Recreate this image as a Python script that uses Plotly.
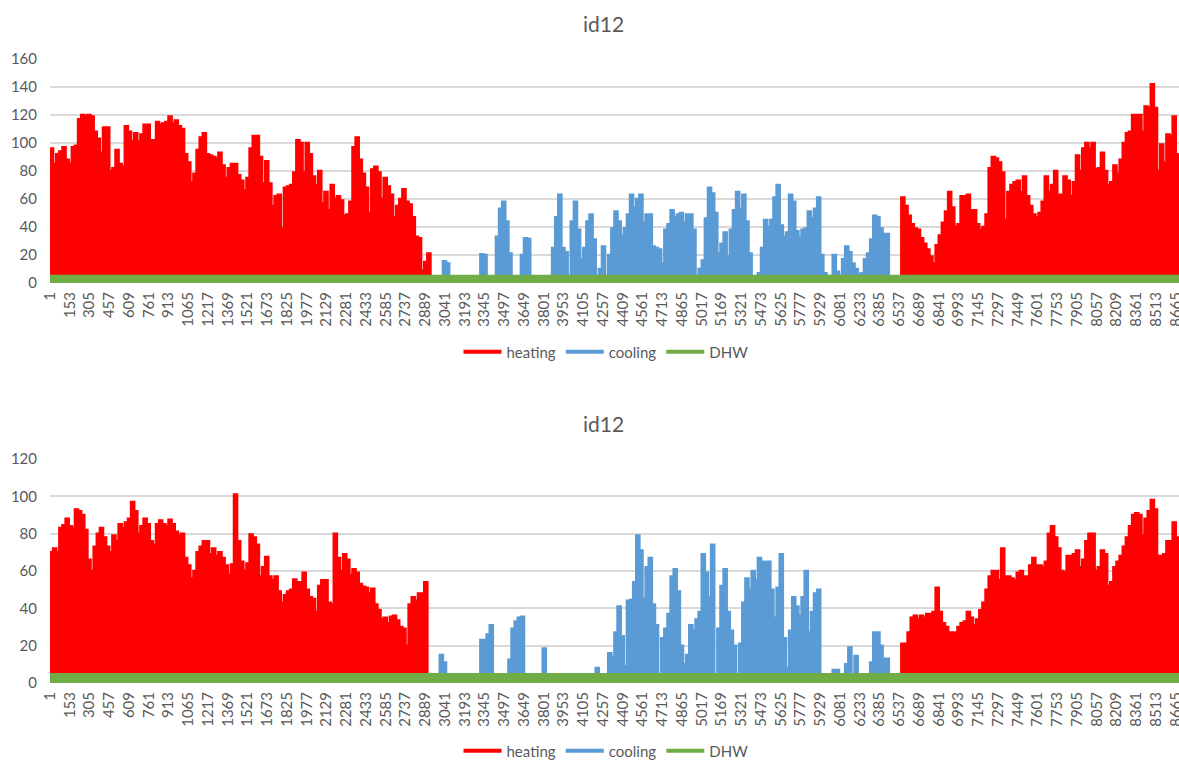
import plotly.graph_objects as go

TITLE = "id12"
SERIES_NAMES = ["heating", "cooling", "DHW"]
COLORS = {"heating": "#ff0000", "cooling": "#5b9bd5", "DHW": "#70ad47"}
HOURS_PER_DAY = 24
N_DAYS = 364
TICK_HOURS = list(range(1, 8666, 152))
DHW_TOP = 5.0
DHW_BOTTOM = 4.7

# daily envelope values: (first day, values)
top_heating_start = [96,85,92,94,97,88,85,97,98,117,120,119,120,119,108,103,93,111,111,80,82,95,85,83,112,108,101,107,101,106,113,113,102,102,115,113,114,115,119,114,116,112,110,92,86,72,78,95,104,107,92,91,90,89,93,84,75,82,85,85,77,73,66,75,96,105,105,90,71,87,71,55,62,63,39,68,69,70,79,102,100,79,100,92,76,70,80,57,65,52,70,60,62,59,48,49,58,97,104,88,78,68,50,81,83,79,60,75,69,63,47,55,60,67,58,56,47,33,32,9,15,21]
top_heating_end = [61,55,48,42,39,38,32,28,24,19,14,27,34,43,51,65,54,40,42,62,62,63,52,52,42,38,40,49,82,90,89,86,79,45,65,70,72,73,65,76,62,55,49,47,50,58,76,65,70,80,63,63,76,73,62,72,91,80,96,100,96,100,81,82,93,80,70,72,84,78,88,100,107,108,120,120,120,108,126,125,142,125,80,99,86,106,105,119,92,60,60]
top_cooling_blocks = [
    (126, [15.5,14]),
    (138, [20.5,20]),
    (143, [33,53,58,44,21]),
    (151, [20,32,31.5]),
    (161, [25,47,63,25,22,0,44,58,38,17,25,44,49,31,0,10,26,0,20,39,51,44,34,39,49,63,54,60,63,43,49,49,26,25,24,14,38,42,52,47,49,50,43,49,49,38]),
    (208, [10,16,46,68,64,50,21,28,36,19,38,52,65,53,63,44,21]),
    (227, [7,25,45,40,45,61,70,41,33,36,63,58,37,33,38,39,51,46,53,61,20,7,5]),
    (251, [20,8,5,17,26,22,14,10,6,7,17,21,31,48,47,39,35,35]),
]

bottom_heating_start = [70,72,70,83,84.5,88,84,83,93,92,90,82,66,60,73,80,83,78,73,70,79,76,85,83,86,88,97,92,80,84,88,85,76,74,85,87,85,84,87.5,85,81,79,80,67,63,56,60,70,73,76,76,69,72,68,70,67,63,58,63.5,101,76,65,60,64,79.5,78,74,57,62,67.5,57,55,57,49,43,47,49,50,55.5,54,54,59,50,46,45,38,52,55,55,43,42,80,67,60,69,66,58,61,59,53,51.5,51,48,50.5,42,39,34,35,32,35.5,36,33.5,30,29,20,42,46,44,48,48,54]
bottom_heating_end = [21,21,27,35,36,34,36,35,37,37,38,51,38,32,30,27,27,27,30,32,33,38,35,31,34,39,43,50,57,60,60,55,72,57,57,56,55,59,60,57,57,63,67,63,63,62,65,80,84,78,72,60,59,68,68,69,71,62,66,76,80,80,60,62,71,69,52,54,62,65,68,73,78,84,90,91,90,79,88,92,98,93,68,68,69,76,76,86,78,46,46]
bottom_cooling_blocks = [
    (125, [15,11]),
    (138, [23,23,26,31]),
    (147, [12.5,29,33,35,35.5]),
    (158, [18.5]),
    (175, [8]),
    (179, [16,14,27,41,25,9,44,44.5,54,79,71,45,62,67,42,31]),
    (196, [24,29,37,57,61,49,20,10,15,31,28,34,38,69,59,46,74]),
    (214, [29,52,61,38,28,20]),
    (221, [21,43,56,50,60,55,67,65,64.5,65,50,35,51,69,24,8,28,46,41,36,46,60,27,38,48,50]),
    (251, [7,7]),
    (255, [10,19]),
    (258, [14.5]),
    (263, [11,27,27,20,13,13]),
]


def full_year(blocks):
    values = [0.0] * N_DAYS
    for start, run in blocks:
        for i, v in enumerate(run):
            values[start + i] = v
    return values


hours = [1 + HOURS_PER_DAY * d for d in range(N_DAYS)]
FONT = "Lato, Carlito, sans-serif"
GREY = "#595959"

panels = [
    dict(heat=[(0, top_heating_start), (273, top_heating_end)], cool=top_cooling_blocks, dhw=DHW_TOP,
         xa="x", ya="y", legend="legend", y_top=59, y_bot=283, ymax=160, dtick=20, title_y=24),
    dict(heat=[(0, bottom_heating_start), (273, bottom_heating_end)], cool=bottom_cooling_blocks, dhw=DHW_BOTTOM,
         xa="x2", ya="y2", legend="legend2", y_top=459, y_bot=683, ymax=120, dtick=20, title_y=423),
]

W, H = 1179, 760
fig = go.Figure()
for p in panels:
    for name, vals in (("heating", full_year(p["heat"])), ("cooling", full_year(p["cool"])), ("DHW", [p["dhw"]] * N_DAYS)):
        fig.add_trace(go.Scatter(x=hours, y=vals, mode="lines", name=name, xaxis=p["xa"], yaxis=p["ya"],
                                 line=dict(color=COLORS[name], width=2.5, shape="hv"),
                                 fill="tozeroy", fillcolor=COLORS[name], showlegend=False, hoverinfo="skip"))
    for name in SERIES_NAMES:
        fig.add_trace(go.Scatter(x=[None], y=[None], mode="lines", name=name, xaxis=p["xa"], yaxis=p["ya"],
                                 legend=p["legend"], line=dict(color=COLORS[name], width=4), showlegend=True))

axis_x = dict(range=[1, 8690], tickmode="array", tickvals=TICK_HOURS, ticktext=[str(t) for t in TICK_HOURS],
              tickangle=-90, tickfont=dict(family=FONT, size=15, color=GREY), showgrid=False, zeroline=False,
              showline=False, ticks="", domain=[50 / W, 1], automargin=False, ticklabelstandoff=5,
              ticklabeloverflow="allow")


def axis_y(p):
    return dict(range=[0, p["ymax"]], dtick=p["dtick"], tickfont=dict(family=FONT, size=15, color=GREY),
                gridcolor="#d9d9d9", gridwidth=1.5, zeroline=False, showline=False, ticks="", automargin=False,
                ticklabelstandoff=12, domain=[(H - p["y_bot"]) / H, (H - p["y_top"]) / H])


legend_style = dict(orientation="h", xanchor="center", x=606 / W, yanchor="middle", yref="container", xref="container",
                    font=dict(family=FONT, size=15, color=GREY), bgcolor="rgba(0,0,0,0)",
                    itemwidth=38, tracegroupgap=0)

fig.update_layout(
    width=W, height=H, margin=dict(l=0, r=0, t=0, b=0, autoexpand=False), paper_bgcolor="white", plot_bgcolor="white",
    xaxis=axis_x, xaxis2={**axis_x, "anchor": "y2"}, yaxis=axis_y(panels[0]), yaxis2={**axis_y(panels[1]), "anchor": "x2"},
    legend={**legend_style, "y": (H - 352) / H}, legend2={**legend_style, "y": (H - 751) / H},
    annotations=[dict(text=TITLE, x=603 / W, y=(H - p["title_y"]) / H, xref="paper", yref="paper", showarrow=False,
                      xanchor="center", yanchor="middle", font=dict(family=FONT, size=21, color=GREY)) for p in panels],
)
fig.write_html("out.html", config={"displayModeBar": False},
               post_script="document.body.style.margin='0';document.documentElement.style.overflow='hidden';")
